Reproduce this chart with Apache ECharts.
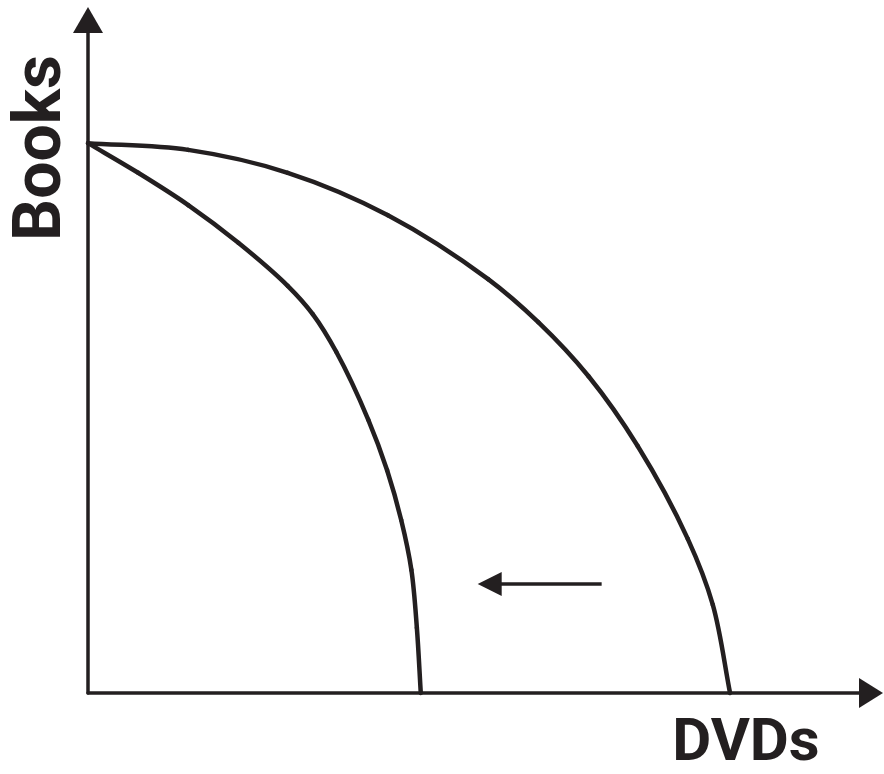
<!DOCTYPE html>
<html>
<head>
<meta charset="utf-8">
<script src="https://cdn.jsdelivr.net/npm/echarts@6/dist/echarts.min.js"></script>
<style>
  html, body { margin: 0; padding: 0; background: #fff; }
  #chart { width: 884px; height: 774px; }
</style>
</head>
<body>
<div id="chart"></div>
<script>
// production possibilities frontier, units are arbitrary (0-100 on both axes)
const outerX = [0, 12.8, 25.5, 38.3, 51.1, 57.5, 63.9, 70.2, 76.6, 79.8, 82.0]
const outerY = [81.7, 80.7, 77.3, 71.0, 61.5, 55.1, 47.1, 36.7, 22.9, 13.1, 0]
const innerX = [0, 6.4, 12.8, 19.2, 25.5, 28.7, 31.7, 35.8, 38.2, 40.0, 41.3, 42.0, 42.5]
const innerY = [81.7, 77.3, 72.5, 66.9, 60.5, 56.3, 50.7, 40.6, 33.1, 25.7, 18.3, 9.7, 0]
// shift arrow (from -> to)
const shiftFrom = [65.6, 16.2]
const shiftTo = [51.3, 16.2]

const ink = '#231f20'

const chart = echarts.init(document.getElementById('chart'))

const zip = (xs, ys) => xs.map((x, i) => [x, ys[i]])

// centripetal catmull-rom through the points, as bezier pieces
function curveRenderer(xs, ys) {
  return (params, api) => {
    if (params.dataIndex !== 0) return null
    const p = xs.map((x, i) => api.coord([x, ys[i]]))
    const n = p.length
    const at = i => {
      if (i < 0) return [2 * p[0][0] - p[1][0], 2 * p[0][1] - p[1][1]]
      if (i >= n) return [2 * p[n - 1][0] - p[n - 2][0], 2 * p[n - 1][1] - p[n - 2][1]]
      return p[i]
    }
    const dist = (a, b) => Math.pow(Math.hypot(a[0] - b[0], a[1] - b[1]), 0.5)
    const children = []
    for (let i = 0; i < n - 1; i++) {
      const p0 = at(i - 1), p1 = p[i], p2 = p[i + 1], p3 = at(i + 2)
      const d1 = dist(p0, p1), d2 = dist(p1, p2), d3 = dist(p2, p3)
      const b1 = [0, 1].map(k =>
        (d1 * d1 * p2[k] - d2 * d2 * p0[k] + (2 * d1 * d1 + 3 * d1 * d2 + d2 * d2) * p1[k]) / (3 * d1 * (d1 + d2)))
      const b2 = [0, 1].map(k =>
        (d3 * d3 * p1[k] - d2 * d2 * p3[k] + (2 * d3 * d3 + 3 * d3 * d2 + d2 * d2) * p2[k]) / (3 * d3 * (d3 + d2)))
      children.push({
        type: 'bezierCurve',
        silent: true,
        shape: {
          x1: p1[0], y1: p1[1], x2: p2[0], y2: p2[1],
          cpx1: b1[0], cpy1: b1[1], cpx2: b2[0], cpy2: b2[1]
        },
        style: { stroke: ink, lineWidth: 4.5, fill: null, lineCap: 'round' }
      })
    }
    return { type: 'group', children }
  }
}

const hiddenAxis = {
  type: 'value',
  min: 0,
  max: 100,
  axisLabel: { show: false },
  axisTick: { show: false },
  splitLine: { show: false },
  axisLine: {
    show: true,
    onZero: false,
    lineStyle: { color: ink, width: 3.5 }
  }
}

const option = {
  backgroundColor: '#fff',
  animation: false,
  grid: { left: 88, right: 13, top: 20, bottom: 81 },
  xAxis: Object.assign({}, hiddenAxis, {
    axisLine: Object.assign({}, hiddenAxis.axisLine, { symbol: ['none', 'triangle'], symbolSize: [30, 24] })
  }),
  yAxis: Object.assign({}, hiddenAxis, {
    axisLine: Object.assign({}, hiddenAxis.axisLine, { symbol: ['none', 'triangle'], symbolSize: [30, 26] })
  }),
  graphic: [
    {
      type: 'text',
      x: 43,
      y: 148,
      rotation: Math.PI / 2,
      style: {
        text: 'Books',
        fill: ink,
        font: 'bold 66px Roboto, "Liberation Sans", sans-serif',
        align: 'center',
        verticalAlign: 'middle'
      }
    },
    {
      type: 'text',
      x: 746,
      y: 745,
      style: {
        text: 'DVDs',
        fill: ink,
        font: 'bold 60px Roboto, "Liberation Sans", sans-serif',
        align: 'center',
        verticalAlign: 'middle'
      }
    }
  ],
  series: [
    {
      type: 'custom',
      data: zip(outerX, outerY),
      renderItem: curveRenderer(outerX, outerY)
    },
    {
      type: 'custom',
      data: zip(innerX, innerY),
      renderItem: curveRenderer(innerX, innerY)
    },
    {
      type: 'lines',
      coordinateSystem: 'cartesian2d',
      symbol: ['none', 'triangle'],
      symbolSize: [25, 24],
      lineStyle: { color: ink, width: 3.5, opacity: 1 },
      data: [{ coords: [shiftFrom, shiftTo] }]
    }
  ]
}

chart.setOption(option)
</script>
</body>
</html>
